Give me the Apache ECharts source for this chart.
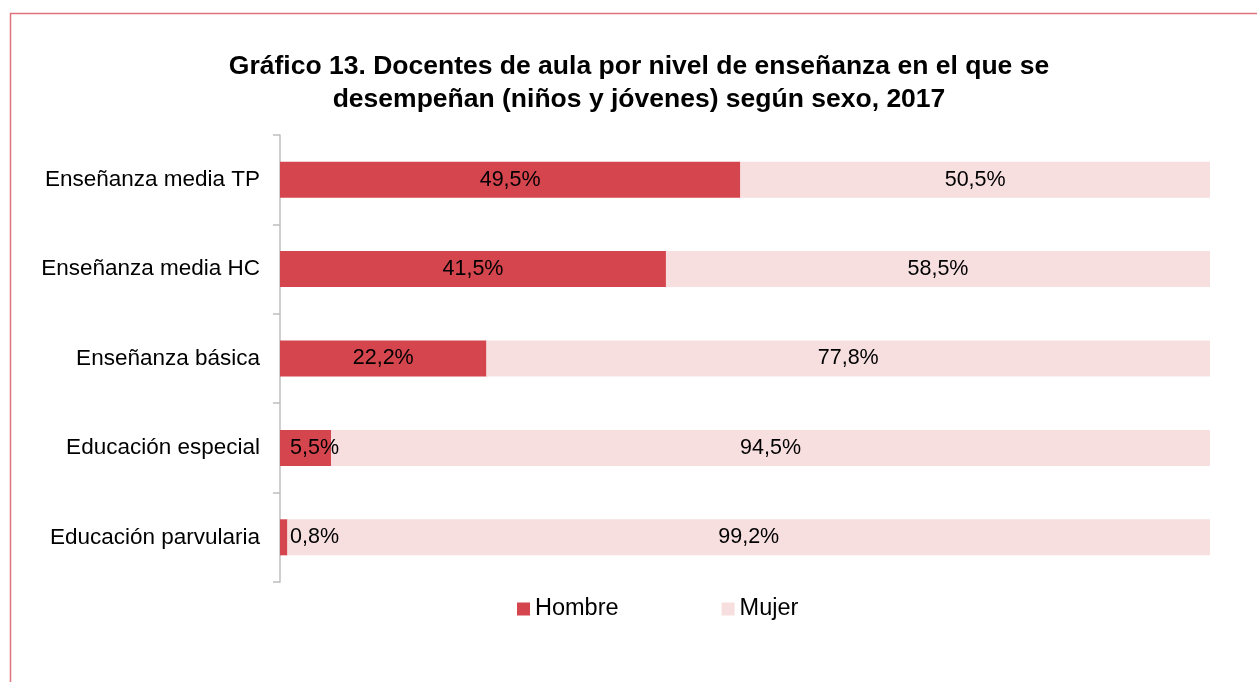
<!DOCTYPE html>
<html>
<head>
<meta charset="utf-8">
<script src="https://cdn.jsdelivr.net/npm/echarts@6/dist/echarts.min.js"></script>
<style>html,body{margin:0;padding:0;background:#fff;}#c{width:1257px;height:682px;}</style>
</head>
<body>
<div id="c"></div>
<script>
const categories = ['Enseñanza media TP', 'Enseñanza media HC', 'Enseñanza básica', 'Educación especial', 'Educación parvularia'];
const hombre = [49.5, 41.5, 22.2, 5.5, 0.8];
const mujer = [50.5, 58.5, 77.8, 94.5, 99.2];
const seriesNames = ['Hombre', 'Mujer'];
const titleText = 'Gráfico 13. Docentes de aula por nivel de enseñanza en el que se\ndesempeñan (niños y jóvenes) según sexo, 2017';

const fmt = v => v.toFixed(1).replace('.', ',') + '%';
const FONT = 'Liberation Sans, Arial, sans-serif';

const chart = echarts.init(document.getElementById('c'), null, {renderer: 'canvas'});
chart.setOption({
  animation: false,
  backgroundColor: '#fff',
  graphic: [{
    type: 'rect',
    shape: {x: 10.5, y: 13.5, width: 1400, height: 800},
    style: {fill: 'none', stroke: '#E0737B', lineWidth: 1.5},
    silent: true
  }],
  title: {
    text: titleText,
    left: 639,
    top: 50,
    padding: 0,
    textAlign: 'center',
    textStyle: {fontFamily: FONT, fontSize: 26.5, fontWeight: 'bold', color: '#000', lineHeight: 33}
  },
  legend: {
    data: seriesNames,
    left: 517,
    top: 597,
    padding: 0,
    itemWidth: 13,
    itemHeight: 13,
    itemGap: 103,
    icon: 'rect',
    textStyle: {fontFamily: FONT, fontSize: 23.5, color: '#000'}
  },
  grid: {left: 280, right: 47, top: 135, bottom: 100},
  xAxis: {
    type: 'value', min: 0, max: 100, show: false
  },
  yAxis: {
    type: 'category',
    data: categories,
    inverse: true,
    axisLine: {show: true, lineStyle: {color: '#BFBFBF', width: 1.5}},
    axisTick: {show: true, inside: false, length: 7, lineStyle: {color: '#BFBFBF', width: 1.5}},
    axisLabel: {fontFamily: FONT, fontSize: 22.5, color: '#000', margin: 20}
  },
  series: [
    {
      name: seriesNames[0], type: 'bar', stack: 'a', barWidth: 36,
      itemStyle: {color: '#D5454D'},
      data: hombre.map(v => v < 10 ? {value: v, label: {position: 'insideLeft', distance: 10}} : v),
      label: {show: true, position: 'inside', formatter: p => fmt(p.value), fontFamily: FONT, fontSize: 21.5, color: '#000'}
    },
    {
      name: seriesNames[1], type: 'bar', stack: 'a', barWidth: 36,
      itemStyle: {color: '#F7DFE0'},
      data: mujer,
      label: {show: true, position: 'inside', formatter: p => fmt(p.value), fontFamily: FONT, fontSize: 21.5, color: '#000'}
    }
  ]
});
</script>
</body>
</html>
